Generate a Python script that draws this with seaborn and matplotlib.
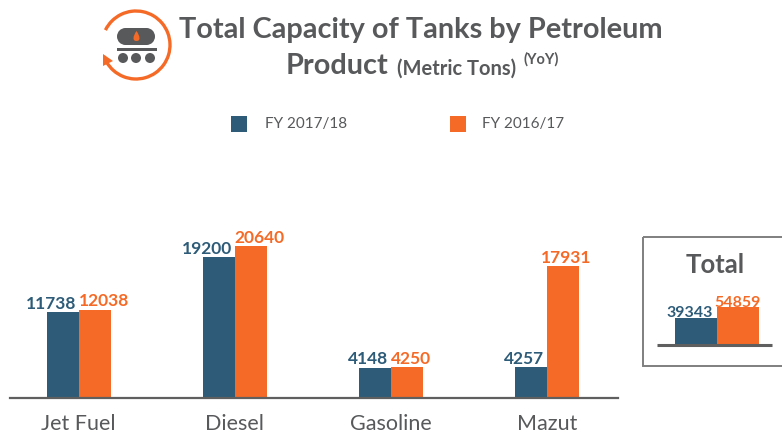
import numpy as np
import pandas as pd
import seaborn as sns
import matplotlib.pyplot as plt
from matplotlib.patches import Arc, Circle, Polygon, Rectangle, PathPatch
from matplotlib.path import Path

W, H = 782, 435
BLUE = '#2d5b78'
ORANGE = '#f56a26'
GREY = '#58595b'

categories = ['Jet Fuel', 'Diesel', 'Gasoline', 'Mazut']
fy1718 = [11738, 19200, 4148, 4257]
fy1617 = [12038, 20640, 4250, 17931]
total_labels = ['Total']
total1718 = [39343]
total1617 = [54859]
series_names = ['FY 2017/18', 'FY 2016/17']

sns.set_theme(style='white')
plt.rcParams['font.family'] = ['Lato', 'DejaVu Sans']

df = pd.DataFrame({'product': categories * 2,
                   'capacity': fy1718 + fy1617,
                   'year': [series_names[0]] * 4 + [series_names[1]] * 4})
df_total = pd.DataFrame({'product': total_labels * 2,
                         'capacity': total1718 + total1617,
                         'year': series_names})
palette = {series_names[0]: BLUE, series_names[1]: ORANGE}

fig = plt.figure(figsize=(W / 100, H / 100), dpi=100)

def px_axes(x0, x1, y_top, y_bottom):
    return fig.add_axes([x0 / W, 1 - y_bottom / H, (x1 - x0) / W, (y_bottom - y_top) / H])

# main bars
ax = px_axes(10, 618, 200, 399)
sns.barplot(ax=ax, data=df, x='product', y='capacity', hue='year', palette=palette,
            width=0.41, gap=0, saturation=1, legend=False, linewidth=0)
ax.set_xlim(-0.44, 3.456)
ax.set_ylim(0, 199 / 0.00735)
ax.set_xlabel('')
ax.set_ylabel('')
ax.set_yticks([])
ax.tick_params(axis='x', length=0, pad=11, labelsize=15.5, labelcolor=GREY)
for s in ['top', 'left', 'right']:
    ax.spines[s].set_visible(False)
ax.spines['bottom'].set_color('#5f5f5f')
ax.spines['bottom'].set_linewidth(1.6)

# value labels sit either side of the line between the two bars
for bar, v in zip(ax.containers[0], fy1718):
    ax.annotate(str(v), (bar.get_x() + bar.get_width(), bar.get_height()), xytext=(-2, 3),
                textcoords='offset points', ha='right', color=BLUE, fontsize=12.5, fontweight='bold')
for bar, v, name in zip(ax.containers[1], fy1617, categories):
    dx = -4 if name == 'Mazut' else 0
    ax.annotate(str(v), (bar.get_x(), bar.get_height()), xytext=(dx, 3),
                textcoords='offset points', ha='left', color=ORANGE, fontsize=12.5, fontweight='bold')

# total panel
ax2 = px_axes(657, 772, 280, 346)
sns.barplot(ax=ax2, data=df_total, x='product', y='capacity', hue='year', palette=palette,
            width=0.73, gap=0, saturation=1, legend=False, linewidth=0)
ax2.set_xlim(-0.52, 0.48)
ax2.set_ylim(0, 66 * 1443)
ax2.axis('off')
ax2.plot([-0.52, 0.48], [0, 0], color='#5f5f5f', lw=2.2, clip_on=False, solid_capstyle='butt')
for bar, v in zip(ax2.containers[0], total1718):
    ax2.annotate(str(v), (bar.get_x() + bar.get_width(), bar.get_height()), xytext=(-3, 1),
                 textcoords='offset points', ha='right', color=BLUE, fontsize=11.5, fontweight='bold')
for bar, v in zip(ax2.containers[1], total1617):
    ax2.annotate(str(v), (bar.get_x() + bar.get_width() / 2, bar.get_height()), xytext=(0, 1),
                 textcoords='offset points', ha='center', color=ORANGE, fontsize=11.5, fontweight='bold')

# overlay in pixel coordinates for title, legend and icon
ov = fig.add_axes([0, 0, 1, 1], zorder=5)
ov.set_xlim(0, W)
ov.set_ylim(H, 0)
ov.axis('off')
ov.patch.set_alpha(0)

ov.text(421, 30, 'Total Capacity of Tanks by Petroleum', ha='center', va='center',
        fontsize=20.8, fontweight='bold', color=GREY)
ov.text(286, 66, 'Product', ha='left', va='center', fontsize=20.8, fontweight='bold', color=GREY)
ov.text(397, 69, '(Metric Tons)', ha='left', va='center', fontsize=14.5, fontweight='bold', color=GREY)
ov.text(524, 59, '(YoY)', ha='left', va='center', fontsize=10.5, fontweight='bold', color=GREY)

# legend
for x, tx, name, col in [(231, 265, series_names[0], BLUE), (450, 482, series_names[1], ORANGE)]:
    ov.add_patch(Rectangle((x, 117), 16, 16, color=col, lw=0))
    ov.text(tx, 124, name, ha='left', va='center', fontsize=11, color=GREY)

# total box
ov.add_patch(Rectangle((643, 238), 141, 129, fill=False, ec='#7f7f7f', lw=1.4))
ov.text(715, 265, 'Total', ha='center', va='center', fontsize=18.5, fontweight='bold', color=GREY)

# icon
ov.add_patch(Arc((136, 46), 68, 68, angle=0, theta1=-154, theta2=150, color=ORANGE, lw=2.4))
ov.add_patch(Polygon([(103, 55), (113, 62), (103, 67)], color=ORANGE, lw=0))
ov.add_patch(Rectangle((125, 29), 22, 17, color=GREY, lw=0))
ov.add_patch(Circle((125.5, 37.5), 8.5, color=GREY, lw=0))
ov.add_patch(Circle((146.5, 37.5), 8.5, color=GREY, lw=0))
ov.add_patch(Rectangle((117, 49), 40, 3, color=GREY, lw=0))
for cx in [123, 136, 150]:
    ov.add_patch(Circle((cx, 59), 5, color=GREY, lw=0))
flame = Path([(136.5, 32), (133, 37), (132, 42), (136.5, 42), (141, 42), (140, 37), (136.5, 32)],
             [Path.MOVETO, Path.CURVE4, Path.CURVE4, Path.CURVE4, Path.CURVE4, Path.CURVE4, Path.CURVE4])
ov.add_patch(PathPatch(flame, color=ORANGE, lw=0))

fig.savefig('out.png', dpi=100)
